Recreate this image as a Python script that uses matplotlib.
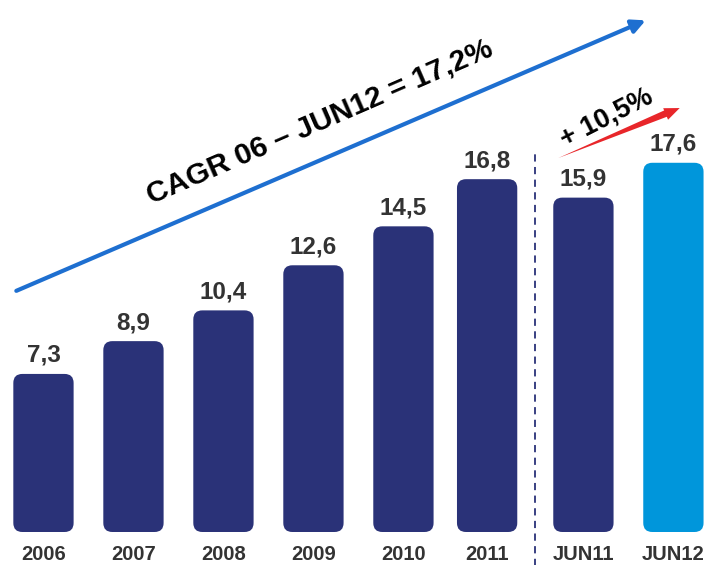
import matplotlib
matplotlib.use("Agg")
import matplotlib.pyplot as plt
from matplotlib.patches import FancyBboxPatch, FancyArrowPatch
import numpy as np

# data
labels = ["2006", "2007", "2008", "2009", "2010", "2011", "JUN11", "JUN12"]
values = [7.3, 8.9, 10.4, 12.6, 14.5, 16.8, 15.9, 17.6]
value_text = ["7,3", "8,9", "10,4", "12,6", "14,5", "16,8", "15,9", "17,6"]
xpos = [0, 1, 2, 3, 4, 4.93, 6, 7]
cagr_text = "CAGR 06 \u2013 JUN12 = 17,2%"
growth_text = "+ 10,5%"

NAVY = "#2A3278"
LIGHT = "#0096DB"
TXT = "#333333"

plt.rcParams['font.family'] = ['Liberation Sans', 'DejaVu Sans']

fig = plt.figure(figsize=(7.04, 5.65), dpi=100)
ax = fig.add_axes([0, 0, 1, 1])
ax.set_xlim(-0.483, 7.34)
ax.set_ylim(-2.02, 25.54)
ax.axis("off")

base = -0.41   # bars start a little below zero in the original
bar_w = 0.67
aspect = 90 / 20.5  # px per x unit / px per y unit

for i, v in enumerate(values):
    col = LIGHT if labels[i] == "JUN12" else NAVY
    box = FancyBboxPatch((xpos[i] - bar_w / 2, base), bar_w, v - base,
                         boxstyle="round,pad=0,rounding_size=0.1",
                         mutation_aspect=aspect, fc=col, ec="none")
    ax.add_patch(box)
    ax.annotate(value_text[i], (xpos[i], v), xytext=(0, 5), textcoords="offset points",
                ha="center", va="bottom", fontsize=17.5, fontweight="bold", color=TXT)
    ax.text(xpos[i], base - 1.1, labels[i], ha="center", va="center",
            fontsize=14.5, fontweight="bold", color=TXT)

# separator between yearly and half-year figures
ax.plot([5.46, 5.46], [-2.1, 18.2], color=NAVY, lw=1.3, ls=(0, (4, 3)))

# CAGR arrow
ax.add_patch(FancyArrowPatch((-0.33, 11.3), (6.72, 24.6), arrowstyle="-|>,head_length=8,head_width=4",
                             mutation_scale=1, color="#1E6FD0", lw=3))
ax.text(3.07, 19.6, cagr_text, rotation=23.5, ha="center", va="center",
        fontsize=21.5, fontweight="bold", color="black", rotation_mode="anchor")

# growth arrow: tapered shaft plus head
ax.add_patch(FancyArrowPatch((6.93, 20.03), (5.72, 17.83),
                             arrowstyle="wedge,tail_width=5,shrink_factor=0.5",
                             mutation_scale=1, color="#E8262A", lw=0,
                             shrinkA=0, shrinkB=0))
ax.add_patch(FancyArrowPatch((6.87, 19.90), (7.07, 20.27),
                             arrowstyle="-|>,head_length=11,head_width=4.5",
                             mutation_scale=1, color="#E8262A", lw=0,
                             shrinkA=0, shrinkB=0))
ax.text(6.26, 19.8, growth_text, rotation=27, ha="center", va="center",
        fontsize=19.5, fontweight="bold", color="black", rotation_mode="anchor")

fig.savefig("out.png", dpi=100)
